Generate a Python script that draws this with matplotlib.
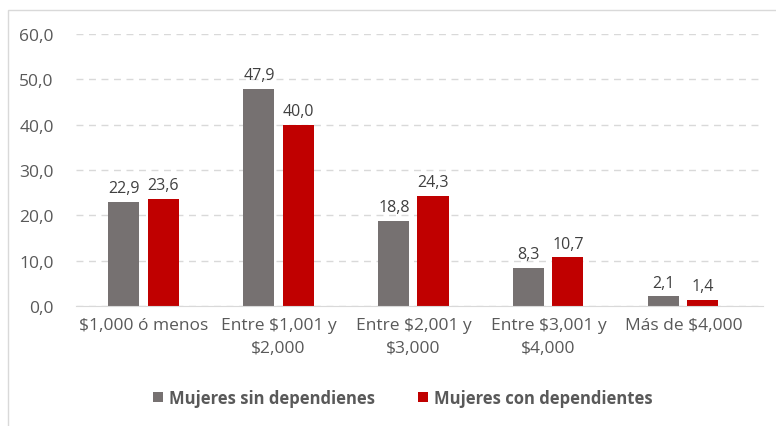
import numpy as np
import matplotlib.pyplot as plt
from matplotlib.patches import Rectangle

categorias = ["$1,000 ó menos", "Entre $1,001 y\n$2,000", "Entre $2,001 y\n$3,000",
              "Entre $3,001 y\n$4,000", "Más de $4,000"]
sin_dep = [22.9, 47.9, 18.8, 8.3, 2.1]
con_dep = [23.6, 40.0, 24.3, 10.7, 1.4]
series = ["Mujeres sin dependienes", "Mujeres con dependientes"]

gris = "#767171"
rojo = "#C00000"
texto = "#595959"

plt.rcParams['font.family'] = ['Open Sans', 'DejaVu Sans']

fig = plt.figure(figsize=(7.76, 4.27), dpi=100)
ax = fig.add_axes([76/776, 1-307/427, (763-76)/776, (307-35)/427])

x = np.arange(len(categorias))
w = 0.23
off = 0.145
b1 = ax.bar(x - off, sin_dep, w, color=gris, label=series[0], zorder=3)
b2 = ax.bar(x + off, con_dep, w, color=rojo, label=series[1], zorder=3)

for bars, vals in [(b1, sin_dep), (b2, con_dep)]:
    for b, v in zip(bars, vals):
        ax.text(b.get_x() + b.get_width()/2, v + 1.3, f"{v:.1f}".replace(".", ","),
                ha="center", va="bottom", fontsize=11.5, color="#404040")

ax.set_ylim(0, 60)
ax.set_xlim(-0.5, 4.59)
ax.set_yticks(range(0, 61, 10))
ax.set_yticklabels([f"{t},0" for t in range(0, 61, 10)])
ax.set_xticks(x)
ax.set_xticklabels(categorias, multialignment="center", linespacing=1.55)
ax.tick_params(axis="both", length=0, labelsize=12.5, colors=texto)
ax.tick_params(axis="x", pad=8)
ax.tick_params(axis="y", pad=16)
ax.grid(axis="y", color="#D9D9D9", linestyle=(0, (5, 4)), linewidth=1, zorder=0)
for s in ["top", "right", "left"]:
    ax.spines[s].set_visible(False)
ax.spines["bottom"].set_color("#D9D9D9")
ax.spines["bottom"].set_zorder(4)

leg = fig.legend(loc="center", bbox_to_anchor=(403/776, 1-399/427), ncol=2, frameon=False,
                 handlelength=0.6, handleheight=0.6, columnspacing=2.6, handletextpad=0.35,
                 prop={"size": 12, "weight": "bold"})
for t in leg.get_texts():
    t.set_color(texto)

fig.patches.append(Rectangle((8/776, -0.1), 1.0, 1 - 11/427 + 0.1, transform=fig.transFigure,
                             fill=False, edgecolor="#D9D9D9", linewidth=1))

fig.savefig("out.png", dpi=100)
